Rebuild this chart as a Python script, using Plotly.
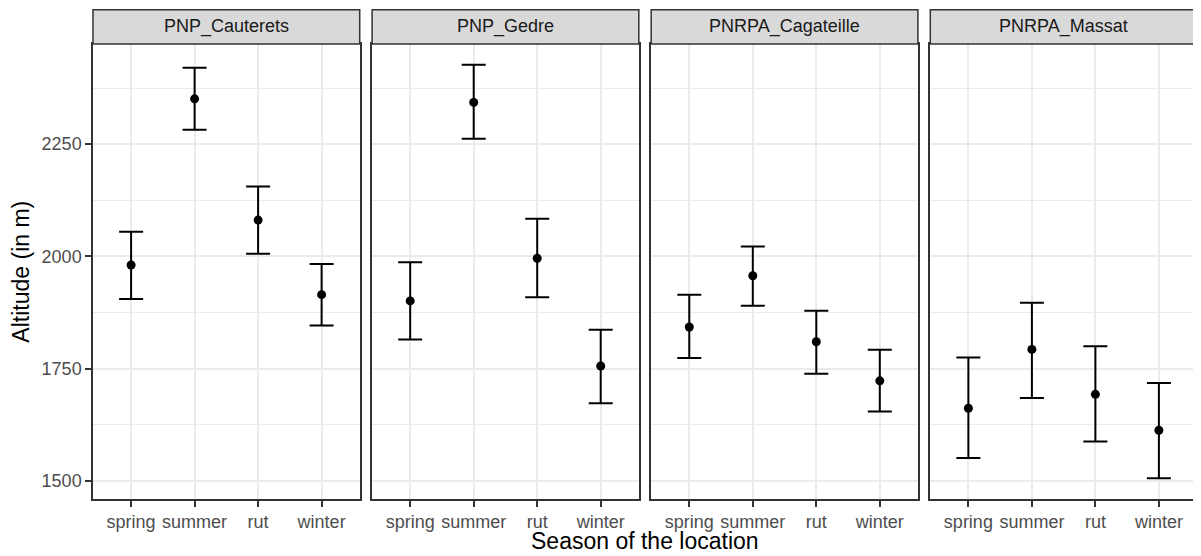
import plotly.graph_objects as go

sites = ["PNP_Cauterets", "PNP_Gedre", "PNRPA_Cagateille", "PNRPA_Massat"]
seasons = ["spring", "summer", "rut", "winter"]

mean_cauterets = [1981, 2351, 2081, 1915]
lower_cauterets = [1905, 2282, 2006, 1846]
upper_cauterets = [2055, 2420, 2156, 1983]

mean_gedre = [1901, 2343, 1996, 1756]
lower_gedre = [1815, 2262, 1909, 1673]
upper_gedre = [1987, 2427, 2084, 1837]

mean_cagateille = [1843, 1957, 1810, 1723]
lower_cagateille = [1774, 1890, 1739, 1655]
upper_cagateille = [1915, 2022, 1879, 1792]

mean_massat = [1662, 1793, 1693, 1613]
lower_massat = [1551, 1685, 1588, 1506]
upper_massat = [1775, 1897, 1800, 1718]

y_ticks = [1500, 1750, 2000, 2250]
y_minor = [1625, 1875, 2125, 2375]

means = [mean_cauterets, mean_gedre, mean_cagateille, mean_massat]
lowers = [lower_cauterets, lower_gedre, lower_cagateille, lower_massat]
uppers = [upper_cauterets, upper_gedre, upper_cagateille, upper_massat]

# page body has an 8px default margin: figure is sized to fill the rest
W, H = 1193, 548
ML, MR, MT, MB = 85, 2, 36, 57
PW = W - ML - MR
PH = H - MT - MB
GAP = 12.4
panel_w = (PW - 3 * GAP) / 4
STRIP = 34.3

FONT = "Liberation Sans, Arial, sans-serif"

all_lo = min(min(l) for l in lowers)
all_hi = max(max(u) for u in uppers)
span = all_hi - all_lo
yrange = [all_lo - 0.05 * span, all_hi + 0.05 * span]

fig = go.Figure()
layout = dict(
    width=W, height=H,
    margin=dict(l=ML, r=MR, t=MT, b=MB, pad=0),
    paper_bgcolor="white", plot_bgcolor="white",
    showlegend=False,
    font=dict(family=FONT, color="#4D4D4D", size=18),
)

annotations = []
shapes = []
for i, site in enumerate(sites):
    sfx = "" if i == 0 else str(i + 1)
    xa = "x" + sfx
    ya = "y" + sfx
    m, lo, up = means[i], lowers[i], uppers[i]
    fig.add_trace(go.Scatter(
        x=seasons, y=m, mode="markers",
        marker=dict(color="black", size=9),
        error_y=dict(type="data", symmetric=False,
                     array=[u - v for u, v in zip(up, m)],
                     arrayminus=[v - l for v, l in zip(m, lo)],
                     color="black", thickness=2, width=12),
        xaxis=xa, yaxis=ya,
    ))
    x0 = i * (panel_w + GAP) / PW
    x1 = min(1.0, x0 + panel_w / PW)
    layout["xaxis" + sfx] = dict(
        domain=[x0, x1], anchor=ya,
        type="category", categoryorder="array", categoryarray=seasons,
        range=[-0.6, 3.6],
        showgrid=True, gridcolor="#EBEBEB", gridwidth=1.6,
        showline=True, linecolor="#333333", linewidth=1.5, mirror=True,
        ticks="outside", ticklen=6, tickwidth=1.5, tickcolor="#333333",
        tickfont=dict(family=FONT, size=18, color="#4D4D4D"),
        zeroline=False,
    )
    yax = dict(
        domain=[0, 1], anchor=xa,
        range=yrange, tickmode="array", tickvals=y_ticks,
        ticktext=[str(t) for t in y_ticks],
        showgrid=True, gridcolor="#EBEBEB", gridwidth=1.6,
        minor=dict(tickmode="array", tickvals=y_minor,
                   showgrid=True, gridcolor="#EBEBEB", gridwidth=0.8, ticks=""),
        showline=True, linecolor="#333333", linewidth=1.5, mirror=True,
        zeroline=False,
        tickfont=dict(family=FONT, size=18, color="#4D4D4D"),
    )
    if i == 0:
        yax.update(ticks="outside", ticklen=6, tickwidth=1.5, tickcolor="#333333",
                   showticklabels=True)
    else:
        yax.update(ticks="", showticklabels=False, matches="y")
    layout["yaxis" + sfx] = yax

    shapes.append(dict(type="rect", xref=xa + " domain", yref="paper",
                       x0=0, x1=1, y0=1, y1=1 + STRIP / PH,
                       fillcolor="#D9D9D9", line=dict(color="#333333", width=1.5),
                       layer="above"))
    annotations.append(dict(text=site, xref=xa + " domain", yref="paper",
                            x=0.5, y=1 + (STRIP / 2) / PH, xanchor="center", yanchor="middle",
                            showarrow=False, font=dict(family=FONT, size=18, color="#1A1A1A")))

annotations.append(dict(text="Season of the location", xref="paper", yref="paper",
                        x=0.5, y=-(533 - (H - MB)) / PH, xanchor="center", yanchor="middle",
                        showarrow=False, font=dict(family=FONT, size=23, color="black")))
annotations.append(dict(text="Altitude (in m)", xref="paper", yref="paper",
                        x=(12 - ML) / PW, y=0.5, xanchor="center", yanchor="middle",
                        textangle=-90,
                        showarrow=False, font=dict(family=FONT, size=23, color="black")))

layout["annotations"] = annotations
layout["shapes"] = shapes
fig.update_layout(**layout)
fig.write_html("out.html")
